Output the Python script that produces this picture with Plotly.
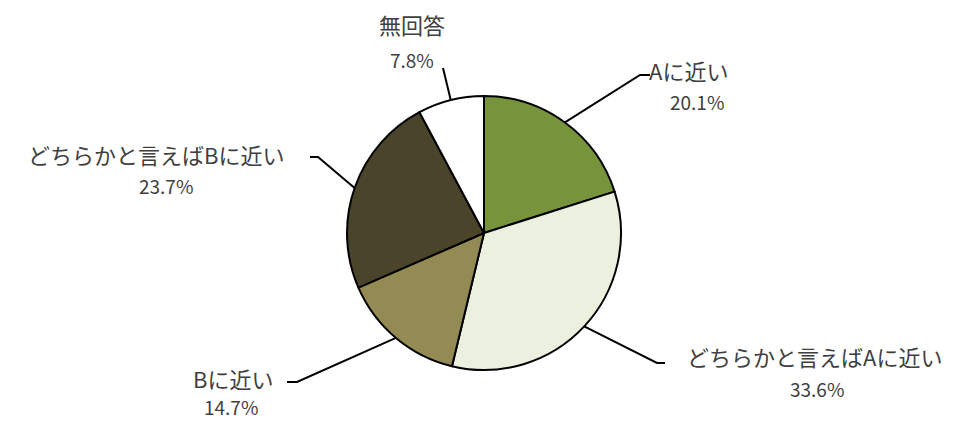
import math
import plotly.graph_objects as go

categories = ["Aに近い", "どちらかと言えばAに近い", "Bに近い", "どちらかと言えばBに近い", "無回答"]
values = [20.1, 33.6, 14.7, 23.7, 7.8]
colors = ["#77933C", "#EBF1DE", "#948A54", "#4A452A", "#FFFFFF"]

W, H = 963, 421
CX, CY, R = 484, 233, 137

# label placement (pixels): (name-center-x, name-y, pct-center-x, pct-y, elbow-x, elbow-y, end-x)
label_pos = [
    (688, 70, 697, 101, 640, 75, 650),
    (814, 356, 817, 388, 657, 363, 665),
    (233, 378, 231, 406, 297, 382, 287),
    (156, 154, 166, 186, 318, 157, 310),
    (412, 24, 412, 59, 443, 68, 443),
]

def px(x):
    return x / W

def py(y):
    return 1 - y / H

fig = go.Figure(go.Pie(
    labels=categories,
    values=values,
    sort=False,
    direction="clockwise",
    rotation=0,
    marker=dict(colors=colors, line=dict(color="#000000", width=2)),
    textinfo="none",
    hoverinfo="label+percent",
    showlegend=False,
    domain=dict(x=[px(CX - R), px(CX + R)], y=[py(CY + R), py(CY - R)]),
))

font_jp = "Noto Sans CJK JP, Meiryo, sans-serif"
txt_color = "#404040"
annotations = []
shapes = []
total = sum(values)
cum = 0
for cat, v, pos in zip(categories, values, label_pos):
    mid = (cum + v / 2) / total * 2 * math.pi
    cum += v
    ex = CX + R * math.sin(mid)
    ey = CY - R * math.cos(mid)
    nx, ny, tx, ty, bx, by, endx = pos
    annotations.append(dict(x=px(nx), y=py(ny), xref="paper", yref="paper", text=cat,
                            showarrow=False, xanchor="center", yanchor="middle",
                            font=dict(family=font_jp, size=22, color=txt_color)))
    annotations.append(dict(x=px(tx), y=py(ty), xref="paper", yref="paper",
                            text=f"{v:.1f}%", showarrow=False, xanchor="center", yanchor="middle",
                            font=dict(family=font_jp, size=19, color=txt_color)))
    path = f"M {px(ex)} {py(ey)} L {px(bx)} {py(by)} L {px(endx)} {py(by)}"
    shapes.append(dict(type="path", path=path, xref="paper", yref="paper",
                       line=dict(color="#000000", width=2)))

fig.update_layout(
    width=W, height=H,
    margin=dict(l=0, r=0, t=0, b=0),
    paper_bgcolor="#FFFFFF",
    plot_bgcolor="#FFFFFF",
    annotations=annotations,
    shapes=shapes,
)

fig.write_html("out.html", config={"displayModeBar": False},
               post_script="document.body.style.margin='0';document.body.style.overflow='hidden';")
